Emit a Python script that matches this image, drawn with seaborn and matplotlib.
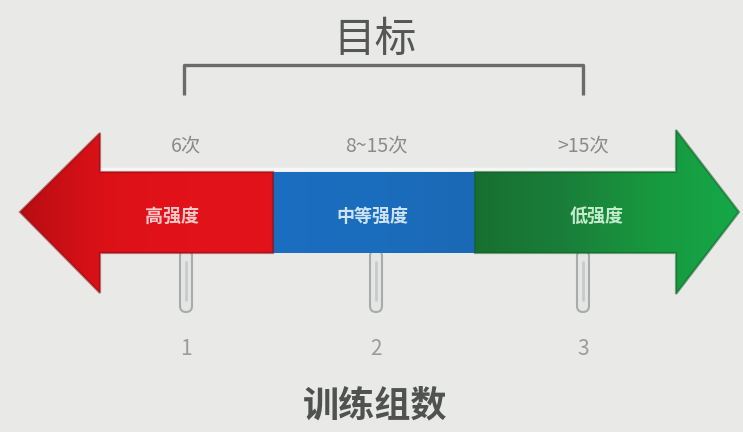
import numpy as np
import matplotlib
matplotlib.use("Agg")
import matplotlib.pyplot as plt
from matplotlib.patches import Polygon, FancyBboxPatch
from matplotlib.colors import LinearSegmentedColormap
import seaborn as sns

# Intensity zones, repetitions per set and number of sets
zones = ["高强度", "中等强度", "低强度"]
reps = ["6次", "8~15次", ">15次"]
sets = ["1", "2", "3"]
title = "目标"
axis_label = "训练组数"

sns.set_theme(style="white")
plt.rcParams["font.family"] = ["Noto Sans CJK SC", "DejaVu Sans"]

W, H = 743, 432
fig = plt.figure(figsize=(W / 100, H / 100), dpi=100)
bg = "#e9eae8"
fig.patch.set_facecolor(bg)
ax = fig.add_axes([0, 0, 1, 1])
ax.set_facecolor(bg)
ax.set_xlim(0, W)
ax.set_ylim(H, 0)
ax.axis("off")

# zone layout
centers = [186, 376, 583]
text_x = [172, 372, 597]
text_colors = ["#f7c9c9", "#cfe3f7", "#c4ebcc"]
edges = [100, 273, 475, 676]
body_top, body_bot, mid_y = 172, 253, 212


def gradient_fill(poly_pts, colors, x0, x1, edge=None):
    poly = Polygon(poly_pts, closed=True, facecolor="none", edgecolor="none")
    ax.add_patch(poly)
    cmap = LinearSegmentedColormap.from_list("g", colors)
    grad = np.linspace(0, 1, 256).reshape(1, -1)
    im = ax.imshow(grad, cmap=cmap, aspect="auto",
                   extent=[x0, x1, 300, 125], zorder=2, interpolation="bilinear")
    im.set_clip_path(poly)
    if edge is not None:
        ax.add_patch(Polygon(poly_pts, closed=True, facecolor="none",
                             edgecolor=edge, linewidth=1.6, alpha=0.55, zorder=3))


# faint highlight just above the arrow body
ax.plot([100, edges[3]], [168.5, 168.5], color="#fafafa", linewidth=2.5, alpha=0.8, zorder=1)

# left (red) arrow: head + body
red_pts = [(20, mid_y), (100, 133), (100, body_top), (edges[1], body_top),
           (edges[1], body_bot), (100, body_bot), (100, 293)]
gradient_fill(red_pts, ["#b80d12", "#dc1118", "#e3121a", "#e2121a"], 20, edges[1], edge="#8c0b0e")

# middle (blue) body
blue_pts = [(edges[1], body_top), (edges[2], body_top), (edges[2], body_bot), (edges[1], body_bot)]
gradient_fill(blue_pts, ["#1a6ec0", "#1b6dbd", "#1a69b6"], edges[1], edges[2])

# right (green) body + head
green_pts = [(edges[2], body_top), (edges[3], body_top), (edges[3], 130), (739, mid_y),
             (edges[3], 294), (edges[3], body_bot), (edges[2], body_bot)]
gradient_fill(green_pts, ["#17702f", "#1a7e39", "#18983f", "#15a848"], edges[2], 739, edge="#0f5e26")

# zone names inside the arrow
for x, z, c in zip(text_x, zones, text_colors):
    ax.text(x, mid_y + 4, z, ha="center", va="center", fontsize=13,
            color=c, fontweight="bold", zorder=5)

# repetition labels above the arrow
for x, r in zip(centers, reps):
    ax.text(x, 146, r, ha="center", va="center", fontsize=14,
            color="#8a8c8a", zorder=5)

# stems below the arrow
for x in centers:
    stem = FancyBboxPatch((x - 6, 250), 12, 62,
                          boxstyle="round,pad=0,rounding_size=6",
                          facecolor="#e4e6e6", edgecolor="#a9abab", linewidth=1.5, zorder=1)
    ax.add_patch(stem)
    ax.plot([x, x], [262, 300], color="#c9cbcb", linewidth=2.0, zorder=1)

# set counts
for x, s in zip(centers, sets):
    ax.text(x, 349, s, ha="center", va="center", fontsize=15,
            color="#9a9c9a", zorder=5)

# bracket over the zones
bx0, bx1, by0, by1 = 184, 583, 65, 95
ax.plot([bx0, bx0, bx1, bx1], [by1, by0, by0, by1], color="#6a6c6a",
        linewidth=2.4, solid_joinstyle="round", solid_capstyle="butt", zorder=3)

ax.text(375, 40, title, ha="center", va="center", fontsize=30,
        color="#555755", zorder=5)
ax.text(375, 406, axis_label, ha="center", va="center", fontsize=26,
        color="#505250", fontweight="bold", zorder=5)

fig.savefig("out.png", dpi=100, facecolor=bg)
